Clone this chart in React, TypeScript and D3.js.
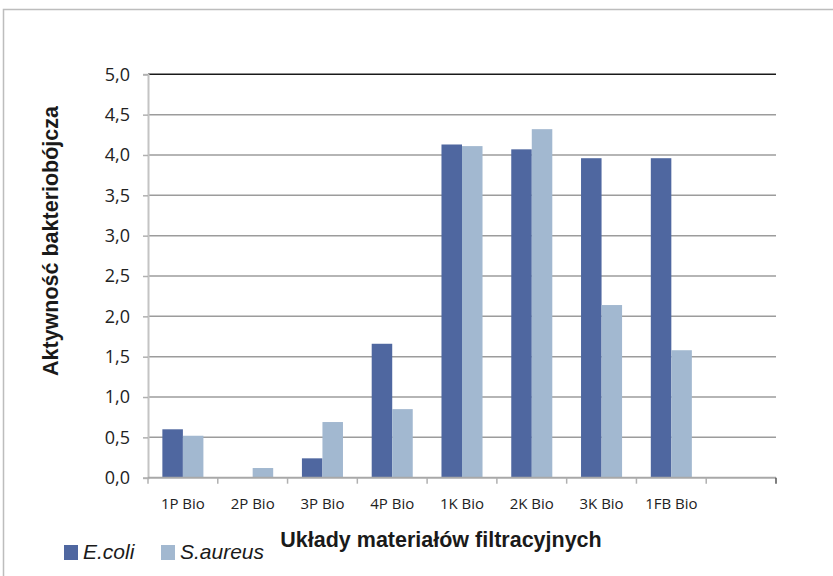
import React, { useEffect, useRef } from 'react';
import * as d3 from 'd3';

// categories (last slot is empty in the original chart)
const categories = ['1P Bio', '2P Bio', '3P Bio', '4P Bio', '1K Bio', '2K Bio', '3K Bio', '1FB Bio', ''];
const ecoli = [0.6, 0, 0.24, 1.66, 4.13, 4.07, 3.96, 3.96, null];
const saureus = [0.52, 0.12, 0.69, 0.85, 4.11, 4.32, 2.14, 1.58, null];
const seriesNames = ['E.coli', 'S.aureus'];
const seriesColors = ['#4f67a0', '#a2b8d0'];
const yTicks = [0, 0.5, 1, 1.5, 2, 2.5, 3, 3.5, 4, 4.5, 5];

const App: React.FC = () => {
  const ref = useRef<SVGSVGElement | null>(null);

  useEffect(() => {
    const W = 833, H = 576;
    const left = 148, right = 776, top = 74.3, bottom = 477.7;

    const svg = d3.select(ref.current);
    svg.selectAll('*').remove();
    svg.attr('width', W).attr('height', H);

    // outer chart border
    svg.append('rect')
      .attr('x', 3.5).attr('y', 9.5)
      .attr('width', W + 20).attr('height', H + 20)
      .attr('fill', 'white')
      .attr('stroke', '#bdbdbd')
      .attr('stroke-width', 1.5);

    const x = d3.scaleBand<string>()
      .domain(categories.map((c, i) => String(i)))
      .range([left, right])
      .paddingInner(0)
      .paddingOuter(0);

    const xInner = d3.scaleBand<string>()
      .domain(seriesNames)
      .range([0, x.bandwidth()])
      .paddingInner(0)
      .paddingOuter(0.7);

    const y = d3.scaleLinear().domain([0, 5]).range([bottom, top]);

    // gridlines
    svg.append('g')
      .selectAll('line')
      .data(yTicks.filter(t => t > 0))
      .enter().append('line')
      .attr('x1', left).attr('x2', right)
      .attr('y1', d => y(d)).attr('y2', d => y(d))
      .attr('stroke', d => (d === 5 ? '#1a1a1a' : '#9c9c9c'))
      .attr('stroke-width', 1.5);

    // y axis
    const yAxis = svg.append('g')
      .attr('transform', `translate(${left},0)`)
      .call(d3.axisLeft(y).tickValues(yTicks).tickSize(5).tickPadding(13)
        .tickFormat(d => d3.format('.1f')(d as number).replace('.', ',')));
    yAxis.select('.domain').attr('stroke', '#c4c4c4').attr('stroke-width', 2);
    yAxis.selectAll('.tick line').attr('stroke', '#b0b0b0').attr('stroke-width', 1.5);
    yAxis.selectAll('.tick text')
      .attr('fill', '#222')
      .style('font-family', '"Open Sans", sans-serif')
      .style('font-size', '18px');

    // bars
    const rows = categories.map((c, i) => ({ i, vals: [ecoli[i], saureus[i]] }));
    const groups = svg.append('g').selectAll('g')
      .data(rows)
      .enter().append('g')
      .attr('transform', d => `translate(${x(String(d.i))},0)`);
    groups.selectAll('rect')
      .data(d => d.vals.map((v, k) => ({ v, k })).filter(e => e.v !== null && (e.v as number) > 0))
      .enter().append('rect')
      .attr('x', d => xInner(seriesNames[d.k]) as number)
      .attr('width', xInner.bandwidth())
      .attr('y', d => y(d.v as number))
      .attr('height', d => bottom - y(d.v as number))
      .attr('fill', d => seriesColors[d.k]);

    // x axis
    const xAxis = svg.append('g')
      .attr('transform', `translate(0,${bottom})`);
    xAxis.append('line')
      .attr('x1', left).attr('x2', right)
      .attr('stroke', '#a8a8a8').attr('stroke-width', 2);
    const bounds = d3.range(categories.length + 1).map(i => left + i * x.step());
    xAxis.selectAll('line.tk')
      .data(bounds)
      .enter().append('line')
      .attr('class', 'tk')
      .attr('x1', d => d).attr('x2', d => d)
      .attr('y1', 0).attr('y2', 6)
      .attr('stroke', (d, i) => (i === categories.length ? '#555' : '#b0b0b0'))
      .attr('stroke-width', 1.5);
    xAxis.selectAll('text')
      .data(categories)
      .enter().append('text')
      .attr('x', (d, i) => (x(String(i)) as number) + x.bandwidth() / 2)
      .attr('y', 31)
      .attr('text-anchor', 'middle')
      .attr('fill', '#222')
      .style('font-family', '"Open Sans", sans-serif')
      .style('font-size', '15px')
      .text(d => d);

    // axis titles
    svg.append('text')
      .attr('x', 441)
      .attr('y', 547)
      .attr('text-anchor', 'middle')
      .attr('fill', '#1a1a1a')
      .style('font-family', '"Liberation Sans", Arial, sans-serif')
      .style('font-weight', 'bold')
      .style('font-size', '21.5px')
      .text('Układy materiałów filtracyjnych');

    svg.append('text')
      .attr('transform', 'translate(58,241) rotate(-90)')
      .attr('text-anchor', 'middle')
      .attr('fill', '#1a1a1a')
      .style('font-family', '"Liberation Sans", Arial, sans-serif')
      .style('font-weight', 'bold')
      .style('font-size', '21.5px')
      .text('Aktywność bakteriobójcza');

    // legend
    const legendX = [64, 161];
    seriesNames.forEach((name, k) => {
      const g = svg.append('g').attr('transform', `translate(${legendX[k]},545)`);
      g.append('rect')
        .attr('width', 14).attr('height', 15)
        .attr('fill', seriesColors[k]);
      g.append('text')
        .attr('x', 19)
        .attr('y', 13.5)
        .attr('fill', '#1a1a1a')
        .style('font-family', '"Liberation Sans", Arial, sans-serif')
        .style('font-style', 'italic')
        .style('font-size', '21px')
        .text(name);
    });
  }, []);

  return <svg ref={ref} style={{ position: 'absolute', left: 0, top: 0 }}></svg>;
};

export default App;
